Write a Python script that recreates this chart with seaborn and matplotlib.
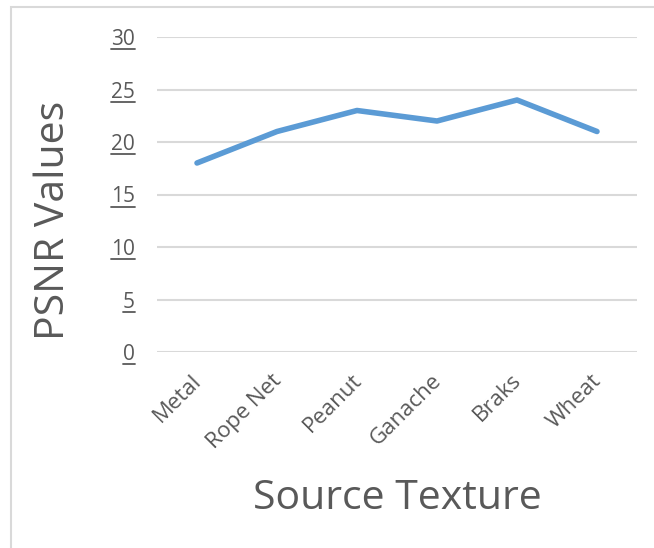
import matplotlib
matplotlib.use("Agg")
import matplotlib.pyplot as plt
import matplotlib.transforms as mtransforms
import seaborn as sns
import pandas as pd
from matplotlib.patches import Rectangle
from matplotlib.lines import Line2D

# Data
textures = ["Metal", "Rope Net", "Peanut", "Ganache", "Braks", "Wheat"]
psnr = [18, 21, 23, 22, 24, 21]
y_ticks = [0, 5, 10, 15, 20, 25, 30]
y_tick_labels = ["0", "5", "10", "15", "20", "25", "30"]

df = pd.DataFrame({"Source Texture": textures, "PSNR Values": psnr})

sns.set_theme(style="white")
plt.rcParams["font.family"] = ["Open Sans", "DejaVu Sans"]

TEXT = "#595959"
GRID = "#d9d9d9"
LINE = "#5b9bd5"

W, H = 654, 548
fig = plt.figure(figsize=(W / 100, H / 100), dpi=100)
fig.patch.set_facecolor("white")

# chart frame
fig.add_artist(Rectangle((11 / W, -0.05), 1.2, 1 - 7 / H + 0.05,
                         transform=fig.transFigure, fill=False,
                         edgecolor=GRID, linewidth=1.5))

left, right, top, bottom = 157, 637, 37, 352
ax = fig.add_axes([left / W, 1 - bottom / H, (right - left) / W, (bottom - top) / H])

x_pos = list(range(len(textures)))
sns.lineplot(x=x_pos, y=df["PSNR Values"], ax=ax, color=LINE, linewidth=4,
             solid_capstyle="round")

ax.set_xlim(-0.5, len(textures) - 0.5)
ax.set_ylim(0, 30)
ax.set_yticks(y_ticks, labels=y_tick_labels)
ax.set_xticks(x_pos, labels=textures)

for s in ax.spines.values():
    s.set_visible(False)
ax.grid(axis="y", color=GRID, linewidth=1.5)
ax.set_axisbelow(True)
ax.tick_params(axis="y", length=0, pad=16, labelsize=15, labelcolor=TEXT)
ax.tick_params(axis="x", length=0, pad=13, labelsize=16, labelcolor=TEXT)
shift = mtransforms.ScaledTranslation(-6 / 100, 0, fig.dpi_scale_trans)
for lab in ax.get_xticklabels():
    lab.set_rotation(45)
    lab.set_ha("right")
    lab.set_va("top")
    lab.set_rotation_mode("anchor")
    lab.set_transform(lab.get_transform() + shift)

ax.set_xlabel("")
ax.set_ylabel("")
fig.text((left + right) / 2 / W, 1 - 499 / H, "Source Texture", ha="center", va="center",
         fontsize=29.5, color=TEXT)
fig.text(54 / W, 1 - 220 / H, "PSNR Values", ha="center", va="center",
         rotation=90, fontsize=29.5, color=TEXT)

# underline the value labels
fig.canvas.draw()
renderer = fig.canvas.get_renderer()
for lab in ax.get_yticklabels():
    bb = lab.get_window_extent(renderer)
    y = bb.y0 + 1
    fig.add_artist(Line2D([bb.x0 / W, bb.x1 / W], [y / H, y / H],
                          transform=fig.transFigure, color=TEXT, linewidth=1.3))

fig.savefig("out.png", dpi=100, facecolor="white")
